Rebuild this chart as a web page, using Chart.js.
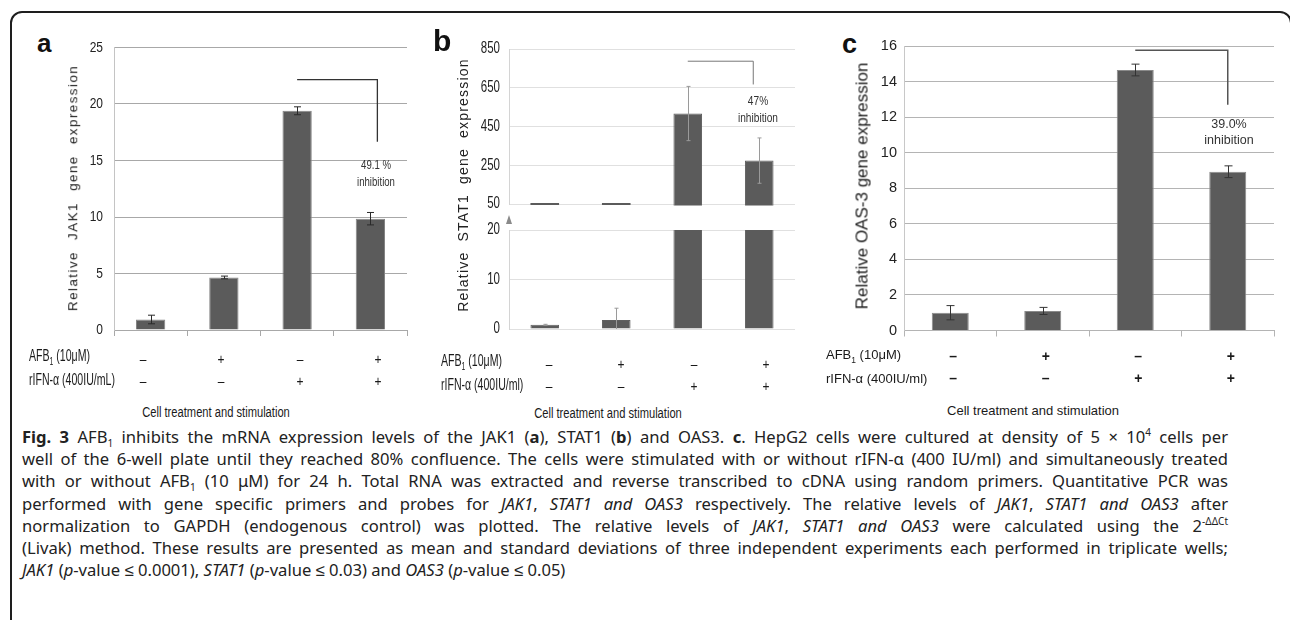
<!DOCTYPE html>
<html>
<head>
<meta charset="utf-8">
<script src="https://cdn.jsdelivr.net/npm/chart.js@4.4.1/dist/chart.umd.min.js"></script>
<style>
html, body { margin: 0; padding: 0; background: #fff; }
body { width: 1290px; height: 620px; position: relative; overflow: hidden; font-family: 'Liberation Sans', Arial, sans-serif; color: #1a1a1a; }
canvas { position: absolute; }
.t { position: absolute; white-space: nowrap; line-height: 1; }
.frame { position: absolute; left: 10px; top: 11px; width: 1278px; height: 700px; border: 2px solid #1e1e1e; border-radius: 12px 12px 0 0; }
.caption { position: absolute; left: 22px; top: 426px; width: 1206px; font-family: 'Noto Sans', sans-serif; font-size: 16.6px; line-height: 22.2px; color: #222; }
.caption div { text-align: justify; text-align-last: justify; }
.caption div.last { text-align: left; text-align-last: left; }
.caption sub, .caption sup { font-size: 10px; line-height: 0; }
.ytitle { position: absolute; white-space: nowrap; line-height: 1; transform: translate(-50%, -50%) rotate(-90deg); }
</style>
</head>
<body>
<div class="frame"></div>
<canvas id="chartA"></canvas>
<canvas id="chartBTop"></canvas>
<canvas id="chartBBottom"></canvas>
<canvas id="chartC"></canvas>

<div class="caption">
<div><b>Fig. 3</b> AFB<sub>1</sub> inhibits the mRNA expression levels of the JAK1 (<b>a</b>), STAT1 (<b>b</b>) and OAS3. <b>c</b>. HepG2 cells were cultured at density of 5 × 10<sup>4</sup> cells per</div>
<div>well of the 6-well plate until they reached 80% confluence. The cells were stimulated with or without rIFN-α (400 IU/ml) and simultaneously treated</div>
<div>with or without AFB<sub>1</sub> (10 μM) for 24 h. Total RNA was extracted and reverse transcribed to cDNA using random primers. Quantitative PCR was</div>
<div>performed with gene specific primers and probes for <i>JAK1</i>, <i>STAT1 and OAS3</i> respectively. The relative levels of <i>JAK1</i>, <i>STAT1 and OAS3</i> after</div>
<div>normalization to GAPDH (endogenous control) was plotted. The relative levels of <i>JAK1</i>, <i>STAT1 and OAS3</i> were calculated using the 2<sup>-ΔΔCt</sup></div>
<div>(Livak) method. These results are presented as mean and standard deviations of three independent experiments each performed in triplicate wells;</div>
<div class="last"><i>JAK1</i> (<i>p</i>-value ≤ 0.0001), <i>STAT1</i> (<i>p</i>-value ≤ 0.03) and <i>OAS3</i> (<i>p</i>-value ≤ 0.05)</div>
</div>

<script>
// treatment groups (columns of the table under each chart)
const groups = ['G1', 'G2', 'G3', 'G4'];
const afb1Row = ['–', '+', '–', '+'];
const rifnRow = ['–', '–', '+', '+'];

// panel a - JAK1
const jak1Mean = [0.93, 4.65, 19.4, 9.85];
const jak1Sd = [0.38, 0.12, 0.35, 0.55];
const jak1Ticks = [0, 5, 10, 15, 20, 25];
const jak1Note = ['49.1 %', 'inhibition'];

// panel b - STAT1 (broken axis)
const stat1Mean = [0.85, 1.8, 517, 274];
const stat1Sd = [0.1, 2.4, 140, 117];
const stat1TopTicks = [50, 250, 450, 650, 850];
const stat1BottomTicks = [0, 10, 20];
const stat1Note = ['47%', 'inhibition'];

// panel c - OAS-3
const oas3Mean = [1.0, 1.1, 14.65, 8.93];
const oas3Sd = [0.4, 0.2, 0.33, 0.33];
const oas3Ticks = [0, 2, 4, 6, 8, 10, 12, 14, 16];
const oas3Note = ['39.0%', 'inhibition'];

const ARIAL = "'Liberation Sans', Arial, sans-serif";

// error bars, bracket, axis-break mark and narrow tick labels
const extras = {
    id: 'extras',
    afterDatasetsDraw(chart, args, opts) {
        const { ctx, chartArea: a, scales: { x, y } } = chart;
        const ds = chart.data.datasets[0];
        const meta = chart.getDatasetMeta(0);

        // bars that sit below the upper part of a broken axis
        if (opts.floorMark) {
            ctx.save();
            ctx.fillStyle = ds.backgroundColor;
            meta.data.forEach((bar, i) => {
                if (ds.data[i] < y.min) ctx.fillRect(bar.x - bar.width / 2, a.bottom - 1, bar.width, 2);
            });
            ctx.restore();
        }

        ctx.save();
        ctx.beginPath();
        ctx.rect(a.left, a.top, a.right - a.left, a.bottom - a.top);
        ctx.clip();
        ctx.strokeStyle = opts.errColor;
        ctx.lineWidth = 1;
        meta.data.forEach((bar, i) => {
            const hi = y.getPixelForValue(ds.data[i] + ds.sd[i]);
            const lo = y.getPixelForValue(ds.data[i] - ds.sd[i]);
            const cx = Math.round(bar.x) + 0.5;
            ctx.beginPath();
            ctx.moveTo(cx, hi); ctx.lineTo(cx, lo);
            ctx.moveTo(cx - opts.cap, hi); ctx.lineTo(cx + opts.cap, hi);
            ctx.moveTo(cx - opts.cap, lo); ctx.lineTo(cx + opts.cap, lo);
            ctx.stroke();
        });
        ctx.restore();

        const b = opts.bracket;
        if (b) {
            const x1 = x.getPixelForValue(b.from);
            const x2 = x.getPixelForValue(b.to) + b.dx;
            const yTop = y.getPixelForValue(b.top);
            ctx.save();
            ctx.strokeStyle = b.color;
            ctx.lineWidth = b.width;
            ctx.beginPath();
            ctx.moveTo(x1, yTop);
            ctx.lineTo(x2, yTop);
            ctx.lineTo(x2, y.getPixelForValue(b.drop));
            ctx.stroke();
            ctx.restore();
        }

        if (opts.breakMark) {
            ctx.save();
            ctx.fillStyle = '#8a8a8a';
            ctx.beginPath();
            ctx.moveTo(a.left, a.top - 15);
            ctx.lineTo(a.left + 3, a.top - 6);
            ctx.lineTo(a.left - 3, a.top - 6);
            ctx.closePath();
            ctx.fill();
            ctx.restore();
        }
    },
    afterDraw(chart, args, opts) {
        if (!opts.squeeze) return;
        const { ctx, chartArea: a, scales: { y } } = chart;
        ctx.save();
        ctx.font = opts.tickSize + 'px ' + ARIAL;
        ctx.fillStyle = '#222';
        ctx.textAlign = 'right';
        ctx.textBaseline = 'middle';
        y.ticks.forEach(t => {
            ctx.save();
            ctx.translate(a.left - opts.tickPad, y.getPixelForValue(t.value));
            ctx.scale(opts.squeeze, 1);
            ctx.fillText(String(t.value), 0, 0);
            ctx.restore();
        });
        ctx.restore();
    }
};

function makePanel(id, box, area, values, sd, ticks, o) {
    const cv = document.getElementById(id);
    cv.width = box.w;
    cv.height = box.h;
    cv.style.left = box.x + 'px';
    cv.style.top = box.y + 'px';
    const yWidth = area.l - box.x;
    const below = box.y + box.h - area.b;
    const xHeight = o.xTicks ? 6 : 0;

    return new Chart(cv.getContext('2d'), {
        type: 'bar',
        data: {
            labels: groups,
            datasets: [{
                data: values,
                sd: sd,
                backgroundColor: o.barColor,
                borderColor: o.barBorder,
                borderWidth: 1,
                categoryPercentage: 1,
                barPercentage: 0.4,
                clip: o.clip
            }]
        },
        options: {
            responsive: false,
            animation: false,
            events: [],
            layout: {
                padding: { left: 0, top: area.t - box.y, right: box.x + box.w - area.r, bottom: below - xHeight }
            },
            scales: {
                x: {
                    display: o.xTicks,
                    offset: true,
                    grid: { offset: true, drawOnChartArea: false, drawTicks: true, tickLength: 6, color: o.axisColor },
                    border: { color: o.axisColor },
                    ticks: { display: false },
                    afterFit: s => { s.height = xHeight; }
                },
                y: {
                    min: ticks[0],
                    max: ticks[ticks.length - 1],
                    afterBuildTicks: s => { s.ticks = ticks.map(v => ({ value: v })); },
                    afterFit: s => { s.width = yWidth; },
                    grid: { color: o.gridColor, drawTicks: false },
                    border: { color: o.leftAxis },
                    ticks: { display: !o.squeeze, padding: o.tickPad, color: '#222', font: { family: ARIAL, size: o.tickSize } }
                }
            },
            plugins: {
                legend: { display: false },
                tooltip: { enabled: false },
                extras: {
                    errColor: o.errColor,
                    cap: o.cap,
                    bracket: o.bracket,
                    breakMark: o.breakMark,
                    floorMark: o.floorMark,
                    squeeze: o.squeeze,
                    tickSize: o.tickSize,
                    tickPad: o.tickPad
                }
            }
        },
        plugins: [extras]
    });
}

// html text, y is the visual middle; sq squeezes the text horizontally
function addText(x, y, html, css, align, sq) {
    const d = document.createElement('div');
    d.className = 't';
    d.innerHTML = html;
    d.style.cssText += css;
    d.style.left = x + 'px';
    d.style.top = y + 'px';
    const tx = align === 'c' ? '-50%' : align === 'r' ? '-100%' : '0';
    d.style.transformOrigin = align === 'c' ? 'center' : align === 'r' ? 'right' : 'left';
    d.style.transform = 'translate(' + tx + ', -50%)' + (sq ? ' scaleX(' + sq + ')' : '');
    document.body.appendChild(d);
}

function addTitle(x, y, text, css) {
    const d = document.createElement('div');
    d.className = 'ytitle';
    d.textContent = text;
    d.style.cssText += css;
    d.style.left = x + 'px';
    d.style.top = y + 'px';
    document.body.appendChild(d);
}

// +/- table under a chart, columns follow the category scale
function addRows(chart, box, r) {
    const x = chart.scales.x;
    const mid = (x.left + x.right) / 2;
    groups.forEach((g, i) => {
        const px = box.x + mid + (x.getPixelForValue(i) - mid) * r.spread + r.shift;
        addText(px, r.y1, afb1Row[i], r.css, 'c', r.sq);
        addText(px, r.y2, rifnRow[i], r.css, 'c', r.sq);
    });
    addText(r.lx, r.y1, 'AFB<sub style="font-size:0.65em">1</sub> (10μM)', r.labelCss, 'l', r.labelSq);
    addText(r.lx, r.y2, r.rifnLabel, r.labelCss, 'l', r.labelSq);
}

// ---- panel a
const boxA = { x: 60, y: 20, w: 360, h: 330 };
const chartA = makePanel('chartA', boxA, { l: 114, t: 47.5, r: 407, b: 330 }, jak1Mean, jak1Sd, jak1Ticks, {
    xTicks: true, barColor: '#5b5b5b', barBorder: '#858585', axisColor: '#a8a8a8', gridColor: '#a8a8a8',
    leftAxis: '#c4c4c4', tickPad: 11, tickSize: 15, squeeze: 0.8, errColor: '#2a2a2a', cap: 3.5,
    bracket: { from: 2, to: 3, dx: 7, top: 22.15, drop: 16.66, color: '#333', width: 1.3 }
});

// ---- panel b (two stacked charts for the broken axis)
const boxBT = { x: 430, y: 20, w: 370, h: 195 };
makePanel('chartBTop', boxBT, { l: 509, t: 49, r: 795, b: 204 }, stat1Mean, stat1Sd, stat1TopTicks, {
    xTicks: false, barColor: '#5b5b5b', barBorder: '#5f5f5f', gridColor: '#e0e0e0', leftAxis: '#d4d4d4',
    tickPad: 9, tickSize: 16, squeeze: 0.72, errColor: '#9a9a9a', cap: 2,
    clip: { left: 0, top: 0, right: 0, bottom: 1.5 }, floorMark: true,
    bracket: { from: 2, to: 3, dx: -6, top: 787, drop: 667, color: '#777', width: 1 }
});
const boxBB = { x: 430, y: 205, w: 370, h: 140 };
const chartB = makePanel('chartBBottom', boxBB, { l: 509, t: 230, r: 795, b: 329 }, stat1Mean, stat1Sd, stat1BottomTicks, {
    xTicks: false, barColor: '#5b5b5b', barBorder: '#5f5f5f', gridColor: '#e0e0e0', leftAxis: '#d4d4d4',
    tickPad: 9, tickSize: 16, squeeze: 0.72, errColor: '#9a9a9a', cap: 2,
    clip: 0, breakMark: true
});

// ---- panel c
const boxC = { x: 870, y: 20, w: 410, h: 330 };
const chartC = makePanel('chartC', boxC, { l: 904, t: 46, r: 1274, b: 330.5 }, oas3Mean, oas3Sd, oas3Ticks, {
    xTicks: true, barColor: '#5b5b5b', barBorder: '#8a8a8a', axisColor: '#b4b4b4', gridColor: '#b4b4b4',
    leftAxis: '#c8c8c8', tickPad: 7, tickSize: 14.5, errColor: '#333', cap: 4,
    bracket: { from: 2, to: 3, dx: 0, top: 15.76, drop: 12.7, color: '#555', width: 1.5 }
});

// ---- texts
addText(37, 43, 'a', 'font-weight:bold;font-size:26px;color:#111;', 'l');
addText(433, 41, 'b', 'font-weight:bold;font-size:30px;color:#111;', 'l');
addText(842, 44, 'c', 'font-weight:bold;font-size:27px;color:#111;', 'l');

addTitle(73, 188, 'Relative JAK1 gene expression', 'font-size:13.5px;letter-spacing:1.4px;word-spacing:6px;color:#222;');
addTitle(463, 185, 'Relative STAT1 gene expression', 'font-size:14px;letter-spacing:1.2px;word-spacing:5px;color:#222;');
addTitle(862, 186, 'Relative OAS-3 gene expression', 'font-size:17px;color:#222;');

addText(376, 165, jak1Note[0], 'font-size:12px;color:#333;', 'c', 0.8);
addText(376, 181.5, jak1Note[1], 'font-size:12px;color:#333;', 'c', 0.8);
addText(758, 100, stat1Note[0], 'font-size:13px;color:#333;', 'c', 0.78);
addText(758, 117, stat1Note[1], 'font-size:13px;color:#333;', 'c', 0.78);
addText(1229, 124, oas3Note[0], 'font-size:12.5px;color:#333;', 'c');
addText(1229, 139.5, oas3Note[1], 'font-size:12.5px;color:#333;', 'c');

addRows(chartA, boxA, { y1: 358, y2: 380, spread: 1.069, shift: 0, lx: 29, rifnLabel: 'rIFN-α (400IU/mL)',
    sq: 0.8, labelSq: 0.66, css: 'font-size:15px;', labelCss: 'font-size:16px;' });
addRows(chartB, boxBB, { y1: 363, y2: 385, spread: 1.015, shift: 5.5, lx: 441, rifnLabel: 'rIFN-α (400IU/ml)',
    sq: 0.8, labelSq: 0.66, css: 'font-size:15px;', labelCss: 'font-size:16px;' });
addRows(chartC, boxC, { y1: 356, y2: 378, spread: 1, shift: 3, lx: 826, rifnLabel: 'rIFN-α (400IU/ml)',
    css: 'font-size:14px;font-weight:bold;', labelCss: 'font-size:13px;' });

addText(216, 412, 'Cell treatment and stimulation', 'font-size:15.5px;', 'c', 0.72);
addText(608, 413, 'Cell treatment and stimulation', 'font-size:15.5px;', 'c', 0.72);
addText(1033, 410, 'Cell treatment and stimulation', 'font-size:13px;', 'c');
</script>
</body>
</html>
